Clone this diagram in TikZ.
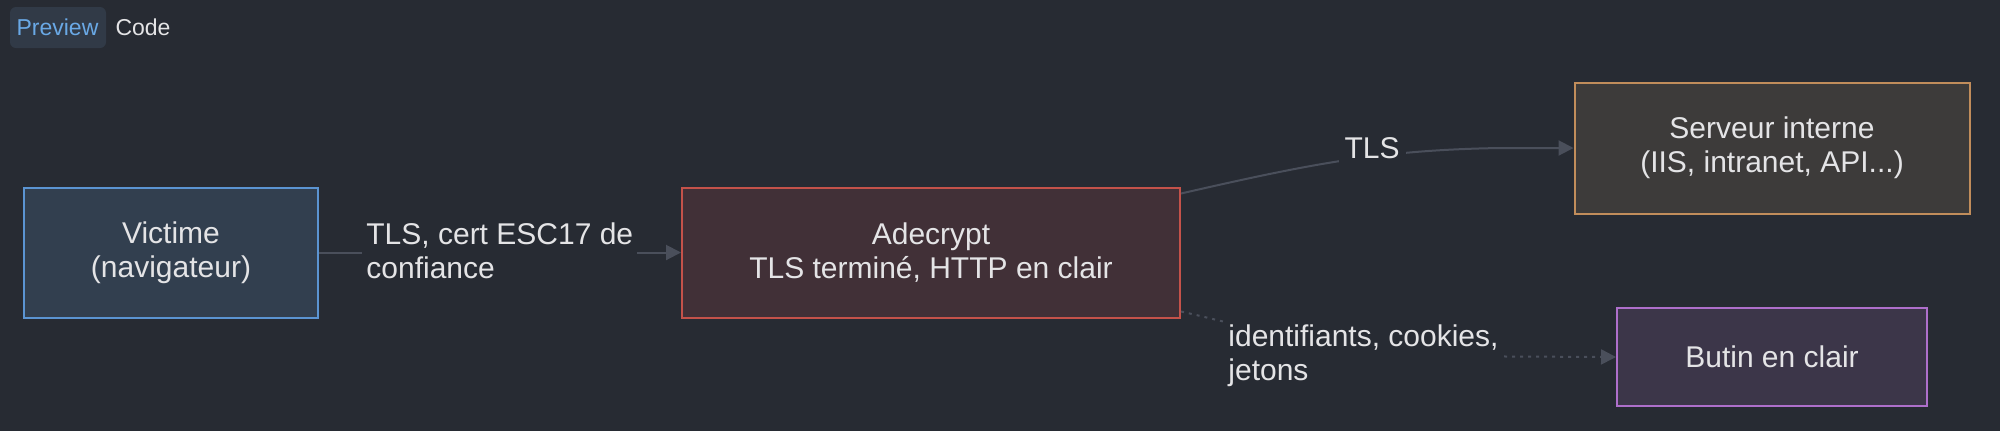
\documentclass[tikz,border=0pt]{standalone}
\usepackage{fontspec}
\setmainfont{Liberation Sans}
\usetikzlibrary{arrows.meta,calc}
\definecolor{bg}{HTML}{272B33}
\definecolor{tabfill}{HTML}{313A47}
\definecolor{tabblue}{HTML}{6AA9E6}
\definecolor{txt}{HTML}{E4E4E6}
\definecolor{edgec}{HTML}{4A4F5B}
\definecolor{vicfill}{HTML}{323F4F}
\definecolor{vicdraw}{HTML}{5B94D2}
\definecolor{adefill}{HTML}{413037}
\definecolor{adedraw}{HTML}{C4524A}
\definecolor{serfill}{HTML}{3D3B3A}
\definecolor{serdraw}{HTML}{C18D5B}
\definecolor{butfill}{HTML}{3C3649}
\definecolor{butdraw}{HTML}{AE6FCB}
\tikzset{
  box/.style={draw, line width=1pt, inner sep=0pt, align=center, text=txt,
    font=\fontsize{15}{17}\selectfont},
  edge/.style={draw=edgec, line width=1pt},
  arr/.style={-{Triangle[length=7.5pt,width=7.5pt]}},
  dotline/.style={dash pattern=on 1.5pt off 2.5pt},
  elabel/.style={fill=bg, inner sep=2pt, align=left, text=txt,
    font=\fontsize{15}{17}\selectfont},
}
\begin{document}
\begin{tikzpicture}[x=0.5pt,y=-0.5pt]
\useasboundingbox (0,0) rectangle (2000,430);
\fill[bg] (-20,-20) rectangle (2020,450);
% tabs
\fill[tabfill, rounded corners=3pt] (10,7) rectangle (106,48);
\node[text=tabblue, font=\fontsize{11.5}{13}\selectfont, anchor=base] (prev) at (57.5,35) {Preview};
\node[text=txt, font=\fontsize{11.5}{13}\selectfont, anchor=base] (code) at (143,35) {Code};
% nodes
\node[box, fill=vicfill, draw=vicdraw, minimum width=147pt, minimum height=65pt] (vic) at (171,252.5) {Victime\\(navigateur)};
\node[box, fill=adefill, draw=adedraw, minimum width=249pt, minimum height=65pt] (adec) at (931,252.5) {Adecrypt\\TLS terminé, HTTP en clair};
\node[box, fill=serfill, draw=serdraw, minimum width=197.5pt, minimum height=65.5pt] (serv) at (1772,148) {Serveur interne\\(IIS, intranet, API...)};
\node[box, fill=butfill, draw=butdraw, minimum width=155pt, minimum height=49pt] (but) at (1772,357) {Butin en clair};
% edge 1
\draw[edge, arr] (vic.east) -- (adec.west);
\node[elabel, anchor=west] (l1) at (362,251) {TLS, cert ESC17 de\\confiance};
% edge 2
\draw[edge, arr] ($(adec.north east)+(0,7)$) .. controls (1310,164) and (1380,150) .. (1500,148) -- (serv.west);
\node[elabel, inner sep=3pt] (l2) at (1372,148) {TLS};
% edge 3
\draw[edge, dotline, arr] ($(adec.south east)+(0,-7)$) .. controls (1280,334) and (1340,356) .. (1400,356) -- (but.west);
\node[elabel, anchor=west] (l3) at (1224,356) {identifiants, cookies,\\jetons};
\end{tikzpicture}
\end{document}
